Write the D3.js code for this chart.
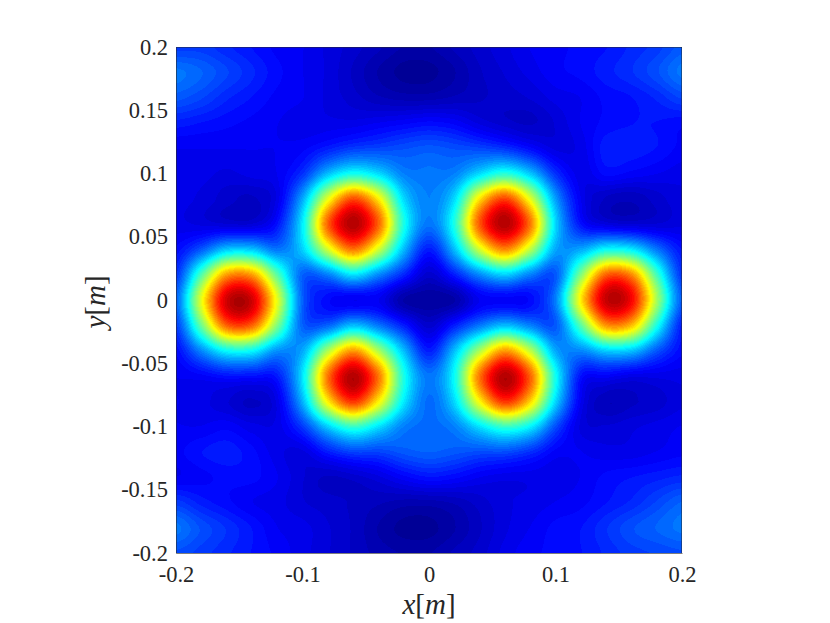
<!DOCTYPE html>
<html><head><meta charset="utf-8">
<style>html,body{margin:0;padding:0;background:#fff}svg{display:block}text{font-family:"Liberation Serif",serif;fill:#262626}</style>
<script src="https://cdn.jsdelivr.net/npm/d3@7"></script></head>
<body><svg id="c" width="830" height="623"></svg>
<script>
const xGrid=[-.2,-.18,-.16,-.14,-.12,-.1,-.08,-.06,-.04,-.02,0,.02,.04,.06,.08,.1,.12,.14,.16,.18,.2];
const yGrid=[.2,.18,.16,.14,.12,.1,.08,.06,.04,.02,0,-.02,-.04,-.06,-.08,-.1,-.12,-.14,-.16,-.18,-.2];
const intensity=[
[18,18,16,14,12,11,9,7,5,3,3,5,7,9,11,12,13,14,16,18,21],
[24,22,19,16,13,11,9,6,3,1,1,3,6,8,10,12,13,15,17,20,24],
[21,19,16,14,12,11,9,7,5,4,4,5,6,7,8,10,11,13,14,16,19],
[15,14,13,12,11,10,10,10,11,12,13,12,9,7,6,8,11,13,14,14,13],
[11,11,11,11,11,12,15,18,19,20,21,20,19,17,13,9,10,15,15,14,12],
[10,10,9,10,11,17,31,39,34,25,24,25,34,41,32,17,10,13,12,11,10],
[10,9,7,6,10,29,60,80,64,34,25,34,65,81,60,28,11,6,5,7,9],
[10,9,8,8,14,36,78,95,78,40,24,40,79,95,76,34,14,9,8,8,9],
[13,21,32,32,24,33,58,76,58,31,15,31,58,74,56,29,29,38,36,24,14],
[17,45,72,72,46,22,25,35,26,16,7,15,26,33,25,21,50,78,74,44,17],
[22,60,92,92,60,22,13,11,11,3,2,3,11,12,13,25,64,93,88,54,21],
[18,48,78,78,50,22,22,31,24,15,7,15,24,31,25,21,46,73,69,40,15],
[13,26,38,38,27,29,54,72,54,31,15,31,54,72,56,29,26,33,32,21,13],
[11,12,14,14,15,35,76,95,76,40,24,38,76,95,78,39,14,12,10,10,10],
[11,10,8,6,10,30,64,83,64,36,23,34,63,83,67,34,11,5,6,7,9],
[11,11,12,10,10,18,33,43,35,25,23,25,35,43,37,20,9,8,9,10,11],
[12,14,15,13,10,9,15,19,19,21,22,21,20,20,17,12,11,10,10,11,12],
[11,12,13,13,11,8,6,7,9,12,14,13,11,10,10,10,11,13,14,15,16],
[18,15,13,11,10,8,7,6,5,4,4,5,7,9,10,11,12,14,16,19,22],
[24,20,17,14,11,10,8,6,3,1,1,3,6,9,11,13,14,17,20,22,24],
[20,18,16,14,12,10,8,6,4,3,3,5,7,10,12,13,14,16,18,19,20]];
const xTicks=[-.2,-.1,0,.1,.2];
const yTicks=[-.2,-.15,-.1,-.05,0,.05,.1,.15,.2];
const jetStops=[0,.125,.375,.625,.875,1];
const jetColors=["#00008f","#0000ff","#00ffff","#ffff00","#ff0000","#800000"];

const L=176,R=682,T=47,B=553;
const x=d3.scaleLinear().domain([-.2,.2]).range([L,R]);
const y=d3.scaleLinear().domain([-.2,.2]).range([B,T]);
const col=d3.scaleLinear().domain(jetStops).range(jetColors).interpolate(d3.interpolateRgb);
const svg=d3.select("#c");

const gx=d3.scaleLinear().domain(d3.extent(xGrid)).range([0,xGrid.length-1]);
const gy=d3.scaleLinear().domain([d3.max(yGrid),d3.min(yGrid)]).range([0,yGrid.length-1]);
const cr=(a,b,c,d,t)=>b+.5*t*(c-a+t*(2*a-5*b+4*c-d+t*(3*(b-c)+d-a)));
const at=(r,c)=>intensity[Math.max(0,Math.min(20,r))][Math.max(0,Math.min(20,c))];
function sample(u,v){
  const c0=Math.min(19,Math.floor(u)),r0=Math.min(19,Math.floor(v)),tu=u-c0,tv=v-r0,rows=[];
  for(let r=-1;r<3;r++)rows.push(cr(at(r0+r,c0-1),at(r0+r,c0),at(r0+r,c0+1),at(r0+r,c0+2),tu));
  return cr(rows[0],rows[1],rows[2],rows[3],tv)/100;
}
const W=R-L,H=B-T,cv=document.createElement("canvas");cv.width=W;cv.height=H;
const ctx=cv.getContext("2d"),img=ctx.createImageData(W,H);
for(let j=0;j<H;j++)for(let i=0;i<W;i++){
  const v=Math.max(0,Math.min(.999,sample(gx(x.invert(L+i+.5)),gy(y.invert(T+j+.5)))));
  const q=(Math.floor(v*64)+.5)/64,c=d3.rgb(col(q)),k=(j*W+i)*4;
  img.data[k]=c.r;img.data[k+1]=c.g;img.data[k+2]=c.b;img.data[k+3]=255;
}
ctx.putImageData(img,0,0);
svg.append("image").attr("x",L).attr("y",T).attr("width",W).attr("height",H).attr("href",cv.toDataURL());

const fmt=d=>String(+d.toFixed(2));
svg.append("g").attr("transform",`translate(0,${B})`).call(d3.axisBottom(x).tickValues(xTicks).tickFormat(fmt).tickSize(0).tickPadding(13));
svg.append("g").attr("transform",`translate(${L},0)`).call(d3.axisLeft(y).tickValues(yTicks).tickFormat(fmt).tickSize(0).tickPadding(8));
svg.selectAll(".tick text").style("font-family",'"Liberation Serif",serif').style("font-size","22.5px").style("fill","#262626");
svg.selectAll(".domain").attr("stroke","#262626").attr("stroke-opacity",.6);
svg.append("path").attr("d",`M${L},${T+.5}H${R}M${R-.5},${T}V${B}`).attr("stroke","#262626").attr("stroke-opacity",.5).attr("fill","none");

const xl=svg.append("text").attr("x",x(0)).attr("y",614).attr("text-anchor","middle").style("font-size","29px");
xl.append("tspan").attr("font-style","italic").text("x");xl.append("tspan").text("[");xl.append("tspan").attr("font-style","italic").text("m");xl.append("tspan").text("]");
const yl=svg.append("text").attr("transform",`translate(105,302) rotate(-90)`).attr("text-anchor","middle").style("font-size","29px");
yl.append("tspan").attr("font-style","italic").text("y");yl.append("tspan").text("[");yl.append("tspan").attr("font-style","italic").text("m");yl.append("tspan").text("]");
</script></body></html>
